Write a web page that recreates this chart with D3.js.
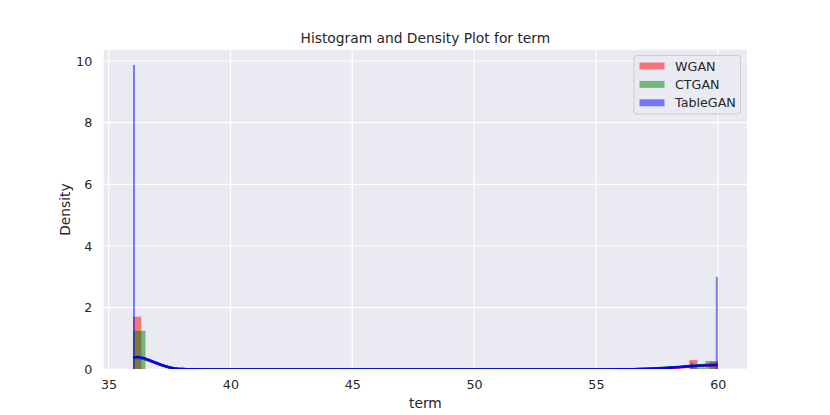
<!DOCTYPE html>
<html><head><meta charset="utf-8">
<script src="https://cdn.jsdelivr.net/npm/d3@7"></script>
<style>body{margin:0;background:#fff}svg{display:block}text{font-family:"DejaVu Sans",sans-serif;fill:#262626}</style>
</head><body><svg id="c" width="830" height="415"></svg>
<script>
const seriesNames = ["WGAN", "CTGAN", "TableGAN"];
const xTicks = [35, 40, 45, 50, 55, 60];
const yTicks = [0, 2, 4, 6, 8, 10];
// histogram bins: start, end, density
const wganBinStart = [36.0, 58.83, 59.66];
const wganBinEnd   = [36.34, 59.17, 60.0];
const wganDensity  = [1.71, 0.30, 0.25];
const ctganBinStart = [36.0, 59.0, 59.49];
const ctganBinEnd   = [36.51, 59.49, 60.0];
const ctganDensity  = [1.25, 0.06, 0.27];
const tableganBinStart = [36.0, 58.9, 59.92];
const tableganBinEnd   = [36.08, 58.98, 60.0];
const tableganDensity  = [9.87, 0.22, 3.0];
// KDE curves
const kdeX = [36, 36.2, 36.4, 36.6, 36.8, 37, 37.2, 37.4, 37.6, 37.8, 38, 38.5, 39, 55, 56, 56.5, 57, 57.5, 58, 58.5, 59, 59.5, 60];
const wganKde     = [0.36, 0.37, 0.35, 0.30, 0.24, 0.18, 0.13, 0.08, 0.045, 0.02, 0.01, 0.002, 0, 0, 0.002, 0.005, 0.012, 0.025, 0.045, 0.07, 0.10, 0.12, 0.13];
const ctganKde    = [0.37, 0.38, 0.36, 0.31, 0.25, 0.19, 0.13, 0.085, 0.048, 0.022, 0.011, 0.002, 0, 0, 0.003, 0.008, 0.018, 0.035, 0.06, 0.09, 0.12, 0.145, 0.16];
const tableganKde = [0.39, 0.40, 0.37, 0.32, 0.26, 0.20, 0.14, 0.09, 0.05, 0.025, 0.012, 0.002, 0, 0, 0.002, 0.006, 0.015, 0.03, 0.05, 0.08, 0.11, 0.13, 0.14];

const colors = ["red", "green", "blue"];
const hists = [
  [wganBinStart, wganBinEnd, wganDensity],
  [ctganBinStart, ctganBinEnd, ctganDensity],
  [tableganBinStart, tableganBinEnd, tableganDensity]
];
const kdes = [wganKde, ctganKde, tableganKde];

const svg = d3.select("#c");
const L = 103.75, R = 747, T = 49.8, B = 369.35;
const x = d3.scaleLinear().domain([34.8, 61.2]).range([L, R]);
const y = d3.scaleLinear().domain([0, 10.363]).range([B, T]);

svg.append("defs").append("clipPath").attr("id", "clip")
  .append("rect").attr("x", L).attr("y", T).attr("width", R - L).attr("height", B - T - 0.4);

svg.append("rect").attr("x", L).attr("y", T).attr("width", R - L).attr("height", B - T).attr("fill", "#EAEAF2");

const gx = svg.append("g").attr("transform", `translate(0,${B})`)
  .call(d3.axisBottom(x).tickValues(xTicks).tickSize(0).tickPadding(10.5).tickFormat(d3.format("d")));
gx.select(".domain").remove();
gx.selectAll("text").attr("font-size", "12.7px").attr("fill", "#262626");
const gy = svg.append("g").attr("transform", `translate(${L},0)`)
  .call(d3.axisLeft(y).tickValues(yTicks).tickSize(0).tickPadding(11.5).tickFormat(d3.format("d")));
gy.select(".domain").remove();
gy.selectAll("text").attr("font-size", "12.7px").attr("fill", "#262626");

svg.append("g").selectAll("line").data(xTicks).join("line")
  .attr("x1", d => x(d)).attr("x2", d => x(d)).attr("y1", T).attr("y2", B)
  .attr("stroke", "#fff").attr("stroke-width", 1.2);
svg.append("g").selectAll("line").data(yTicks).join("line")
  .attr("y1", d => y(d)).attr("y2", d => y(d)).attr("x1", L).attr("x2", R)
  .attr("stroke", "#fff").attr("stroke-width", 1.2);

const line = d3.line().x(d => x(d[0])).y(d => y(d[1])).curve(d3.curveMonotoneX);
const plot = svg.append("g").attr("clip-path", "url(#clip)");
hists.forEach((h, i) => {
  const bins = h[0].map((s, j) => ({x0: s, x1: h[1][j], d: h[2][j]}));
  plot.append("g").selectAll("rect").data(bins).join("rect")
    .attr("x", d => x(d.x0)).attr("width", d => x(d.x1) - x(d.x0))
    .attr("y", d => y(d.d)).attr("height", d => y(0) - y(d.d))
    .attr("fill", colors[i]).attr("fill-opacity", 0.5);
});
kdes.forEach((k, i) => {
  plot.append("path").datum(kdeX.map((v, j) => [v, k[j]]))
    .attr("d", line).attr("fill", "none").attr("stroke", colors[i]).attr("stroke-width", 2.4);
});

svg.append("text").attr("x", (L + R) / 2).attr("y", 43).attr("text-anchor", "middle")
  .attr("font-size", "13.8px").text("Histogram and Density Plot for term");
svg.append("text").attr("x", (L + R) / 2).attr("y", 407.5).attr("text-anchor", "middle")
  .attr("font-size", "13.8px").text("term");
svg.append("text").attr("transform", `translate(70,${(T + B) / 2}) rotate(-90)`).attr("text-anchor", "middle")
  .attr("font-size", "13.8px").text("Density");

// legend
const lg = svg.append("g");
lg.append("rect").attr("x", 634).attr("y", 55.5).attr("width", 106.5).attr("height", 58.5).attr("rx", 3)
  .attr("fill", "#EAEAF2").attr("fill-opacity", 0.8).attr("stroke", "#cccccc").attr("stroke-width", 1);
seriesNames.forEach((n, i) => {
  const cy = 66 + i * 18.4;
  lg.append("rect").attr("x", 639.5).attr("y", cy - 3.5).attr("width", 25).attr("height", 7)
    .attr("fill", colors[i]).attr("fill-opacity", 0.5);
  lg.append("text").attr("x", 675).attr("y", cy + 4.5).attr("font-size", "12.7px").text(n);
});
</script></body></html>
